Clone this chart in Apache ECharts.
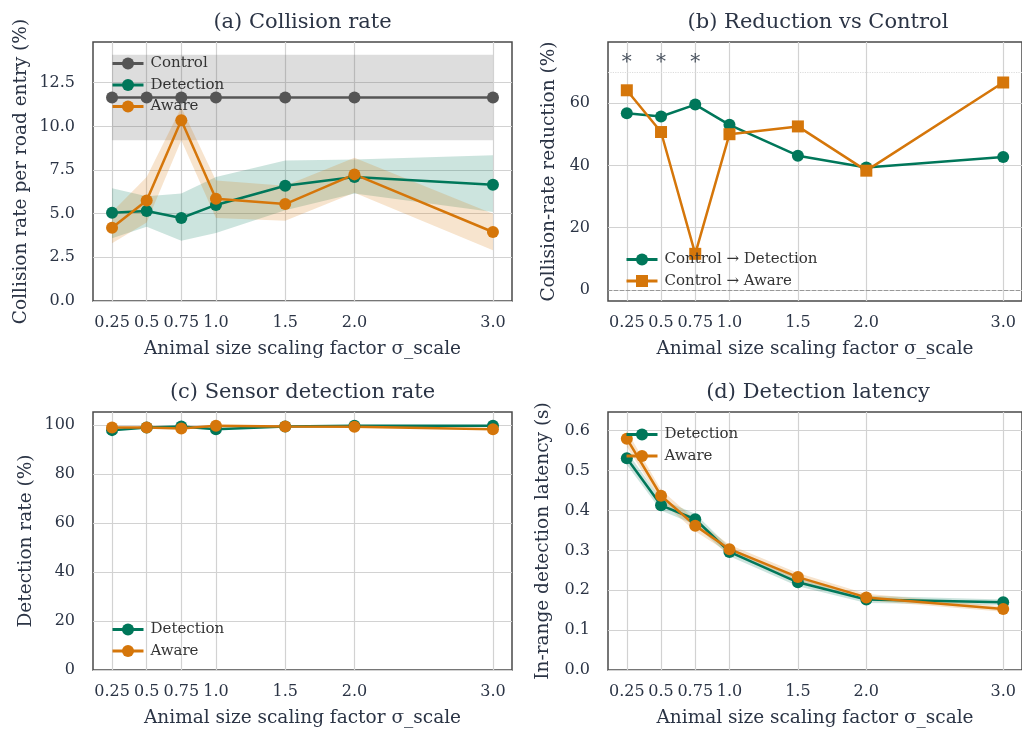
<!DOCTYPE html>
<html lang="en">

<head>
    <meta charset="UTF-8">
    <title>Animal size scaling</title>
    <script src="https://cdn.jsdelivr.net/npm/echarts@6/dist/echarts.min.js"></script>
    <style>
        body {
            margin: 0;
            background: #fff;
        }

        #root {
            width: 1022px;
            height: 731px;
        }
    </style>
</head>

<body>

    <div id="root"></div>
    <script>

        // x positions (sigma_scale) and their tick labels
        var sigmas = [0.25, 0.5, 0.75, 1.0, 1.5, 2.0, 3.0];
        var sigmaLabels = ['0.25', '0.5', '0.75', '1.0', '1.5', '2.0', '3.0'];

        // (a) collision rate per road entry (%)
        var ctrlRate = [11.65, 11.65, 11.65, 11.65, 11.65, 11.65, 11.65];
        var ctrlLo = [9.2, 9.2, 9.2, 9.2, 9.2, 9.2, 9.2];
        var ctrlHi = [14.1, 14.1, 14.1, 14.1, 14.1, 14.1, 14.1];
        var detRate = [5.05, 5.15, 4.75, 5.5, 6.6, 7.1, 6.65];
        var detLo = [3.6, 4.25, 3.45, 3.9, 5.2, 6.15, 5.1];
        var detHi = [6.45, 6.0, 6.15, 7.1, 8.05, 8.1, 8.35];
        var awRate = [4.2, 5.75, 10.35, 5.85, 5.55, 7.25, 3.95];
        var awLo = [3.3, 4.5, 9.2, 4.75, 4.6, 6.2, 2.9];
        var awHi = [5.1, 7.1, 11.1, 6.9, 6.6, 8.2, 5.0];
        var rateTicks = [0, 2.5, 5, 7.5, 10, 12.5];

        // (b) reduction vs control (%)
        var redDet = [56.7, 55.7, 59.5, 53.0, 43.1, 39.3, 42.7];
        var redAw = [64.1, 50.7, 11.6, 50.0, 52.5, 38.3, 66.6];
        var starSigmas = [0.25, 0.5, 0.75];
        var starLevel = 73;
        var refLines = [0, 70];
        var redTicks = [0, 20, 40, 60];

        // (c) sensor detection rate (%)
        var detRateC = [97.9, 99.0, 99.4, 98.3, 99.4, 99.7, 99.7];
        var awRateC = [99.0, 99.0, 98.6, 99.7, 99.4, 99.3, 98.3];
        var pctTicks = [0, 20, 40, 60, 80, 100];

        // (d) in-range detection latency (s)
        var detLat = [0.531, 0.413, 0.378, 0.296, 0.220, 0.177, 0.170];
        var detLatLo = [0.515, 0.400, 0.364, 0.285, 0.210, 0.168, 0.163];
        var detLatHi = [0.548, 0.428, 0.392, 0.308, 0.230, 0.186, 0.177];
        var awLat = [0.580, 0.437, 0.362, 0.303, 0.233, 0.182, 0.153];
        var awLatLo = [0.560, 0.423, 0.348, 0.293, 0.224, 0.174, 0.146];
        var awLatHi = [0.600, 0.452, 0.377, 0.314, 0.243, 0.191, 0.160];
        var latTicks = [0, 0.1, 0.2, 0.3, 0.4, 0.5, 0.6];

        var FONT = 'DejaVu Serif';
        var TXT = '#2b3445';
        var GREEN = '#00775a';
        var ORANGE = '#d5760a';
        var GREY = '#555555';
        var GRIDC = '#d2d2d2';

        var mychart = echarts.init(document.getElementById('root'));

        function pairs(ys) {
            return sigmas.map(function (x, i) { return [x, ys[i]]; });
        }

        function xAxis(gi) {
            return {
                type: 'value', gridIndex: gi, min: 0.1125, max: 3.1375,
                axisLine: { show: false },
                axisTick: { show: false, customValues: sigmas },
                axisLabel: {
                    customValues: sigmas, margin: 14, color: TXT, fontSize: 16, fontFamily: FONT,
                    formatter: function (v) { return sigmaLabels[sigmas.indexOf(v)]; }
                },
                splitLine: { show: true, lineStyle: { color: GRIDC, width: 1.2 } },
                name: 'Animal size scaling factor σ_scale', nameLocation: 'middle', nameGap: 39,
                nameTextStyle: { color: TXT, fontSize: 18.5, fontFamily: FONT }
            };
        }

        function yAxis(gi, min, max, ticks, digits, name, gap) {
            return {
                type: 'value', gridIndex: gi, min: min, max: max,
                axisLine: { show: false },
                axisTick: { show: false, customValues: ticks },
                axisLabel: {
                    customValues: ticks, margin: 18, color: TXT, fontSize: 16, fontFamily: FONT,
                    formatter: function (v) { return v.toFixed(digits); }
                },
                splitLine: { show: true, lineStyle: { color: GRIDC, width: 1.2 } },
                name: name, nameLocation: 'middle', nameGap: gap,
                nameTextStyle: { color: TXT, fontSize: 18.5, fontFamily: FONT }
            };
        }

        function band(gi, lo, hi, fill) {
            return {
                type: 'custom', xAxisIndex: gi, yAxisIndex: gi, silent: true, z: 1,
                data: sigmas.map(function (x, i) { return [x, lo[i], hi[i]]; }),
                encode: { x: 0, y: [1, 2] },
                renderItem: function (params, api) {
                    if (params.dataIndex !== 0) return null;
                    var pts = [];
                    for (var i = 0; i < sigmas.length; i++) pts.push(api.coord([sigmas[i], hi[i]]));
                    for (var j = sigmas.length - 1; j >= 0; j--) pts.push(api.coord([sigmas[j], lo[j]]));
                    return { type: 'polygon', shape: { points: pts }, style: { fill: fill } };
                }
            };
        }

        function line(gi, name, ys, color, symbol) {
            return {
                type: 'line', name: name, xAxisIndex: gi, yAxisIndex: gi, z: 3,
                data: pairs(ys),
                symbol: symbol || 'circle', symbolSize: 12,
                lineStyle: { color: color, width: 2.5 },
                itemStyle: { color: color }
            };
        }

        function legend(names, left, top) {
            return {
                data: names, left: left, top: top, orient: 'vertical',
                itemWidth: 31, itemHeight: 15, itemGap: 6.5,
                lineStyle: { width: 3 },
                textStyle: { color: '#333', fontSize: 15, fontFamily: FONT, padding: [0, 0, 0, 2] }
            };
        }

        function title(text, x, y) {
            return {
                type: 'text', x: x, y: y,
                style: { text: text, fill: TXT, fontSize: 21, fontFamily: FONT, textAlign: 'center', textVerticalAlign: 'middle' }
            };
        }

        var gridBox = { show: true, borderColor: '#4a4a4a', borderWidth: 1.5, backgroundColor: '#fff' };

        var redDetSeries = line(1, 'Control → Detection', redDet, GREEN);
        redDetSeries.markLine = {
            silent: true, symbol: 'none', label: { show: false },
            data: [
                { yAxis: refLines[0], lineStyle: { color: '#999', type: 'dashed', width: 1 } },
                { yAxis: refLines[1], lineStyle: { color: '#dcdcdc', type: 'dotted', width: 1.2 } }
            ]
        };

        mychart.setOption({
            animation: false,
            grid: [
                Object.assign({ left: 93, top: 42, width: 419, height: 259 }, gridBox),
                Object.assign({ left: 608, top: 42, width: 420, height: 259 }, gridBox),
                Object.assign({ left: 93, top: 412, width: 419, height: 258 }, gridBox),
                Object.assign({ left: 608, top: 412, width: 420, height: 258 }, gridBox)
            ],
            xAxis: [xAxis(0), xAxis(1), xAxis(2), xAxis(3)],
            yAxis: [
                yAxis(0, 0, 14.83, rateTicks, 1, 'Collision rate per road entry (%)', 62),
                yAxis(1, -3.54, 79.6, redTicks, 0, 'Collision-rate reduction (%)', 49),
                yAxis(2, 0, 105.3, pctTicks, 0, 'Detection rate (%)', 57),
                yAxis(3, 0, 0.647, latTicks, 1, 'In-range detection latency (s)', 55)
            ],
            legend: [
                legend(['Control', 'Detection', 'Aware'], 106, 51),
                legend(['Control → Detection', 'Control → Aware'], 620, 247),
                legend(['Detection', 'Aware'], 106, 617),
                legend(['Detection', 'Aware'], 620, 422)
            ],
            graphic: [
                title('(a) Collision rate', 302.5, 23),
                title('(b) Reduction vs Control', 818, 23),
                title('(c) Sensor detection rate', 302.5, 393),
                title('(d) Detection latency', 818, 393)
            ],
            series: [
                band(0, ctrlLo, ctrlHi, 'rgba(85,85,85,0.2)'),
                band(0, detLo, detHi, 'rgba(0,119,90,0.2)'),
                band(0, awLo, awHi, 'rgba(213,118,10,0.2)'),
                line(0, 'Control', ctrlRate, GREY),
                line(0, 'Detection', detRate, GREEN),
                line(0, 'Aware', awRate, ORANGE),

                redDetSeries,
                line(1, 'Control → Aware', redAw, ORANGE, 'rect'),
                {
                    type: 'scatter', xAxisIndex: 1, yAxisIndex: 1, silent: true, z: 4,
                    data: starSigmas.map(function (x) { return [x, starLevel]; }),
                    symbolSize: 1, itemStyle: { color: 'transparent' },
                    label: { show: true, position: 'inside', formatter: '*', fontSize: 20, color: '#1f2a3a', fontFamily: FONT }
                },

                line(2, 'Detection', detRateC, GREEN),
                line(2, 'Aware', awRateC, ORANGE),

                band(3, detLatLo, detLatHi, 'rgba(0,119,90,0.2)'),
                band(3, awLatLo, awLatHi, 'rgba(213,118,10,0.2)'),
                line(3, 'Detection', detLat, GREEN),
                line(3, 'Aware', awLat, ORANGE)
            ]
        });

    </script>

</body>

</html>
